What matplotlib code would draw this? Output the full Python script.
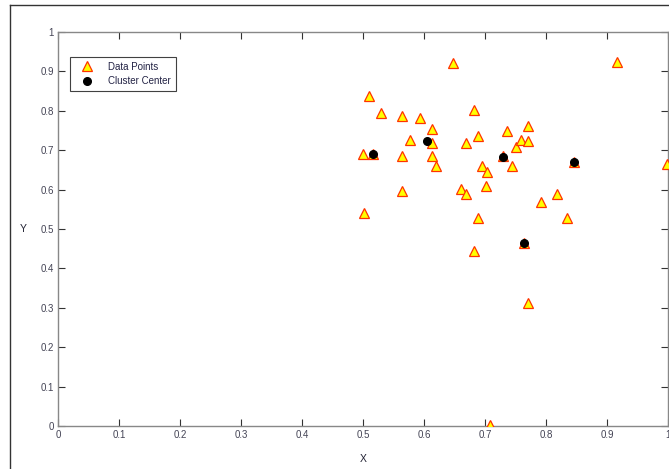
import matplotlib
matplotlib.use("Agg")
import matplotlib.pyplot as plt
from matplotlib.lines import Line2D

plt.rcParams['font.family'] = ['Liberation Sans', 'DejaVu Sans']

# Data points
data_x = [0.500, 0.510, 0.530, 0.502, 0.564, 0.577, 0.564, 0.564, 0.593, 0.613,
          0.613, 0.613, 0.620, 0.648, 0.669, 0.682, 0.689, 0.661, 0.669, 0.695,
          0.703, 0.702, 0.689, 0.682, 0.708, 0.736, 0.744, 0.751, 0.759, 0.770,
          0.770, 0.770, 0.792, 0.818, 0.834, 0.916, 0.998, 0.516, 0.730, 0.764,
          0.846]
data_y = [0.690, 0.838, 0.795, 0.541, 0.787, 0.726, 0.686, 0.596, 0.782, 0.754,
          0.718, 0.686, 0.660, 0.921, 0.718, 0.802, 0.736, 0.601, 0.589, 0.660,
          0.645, 0.609, 0.528, 0.445, 0.003, 0.749, 0.660, 0.708, 0.726, 0.762,
          0.723, 0.313, 0.569, 0.589, 0.528, 0.924, 0.665, 0.690, 0.685, 0.465,
          0.670]

# Cluster centers
center_x = [0.516, 0.605, 0.730, 0.764, 0.846]
center_y = [0.690, 0.723, 0.683, 0.464, 0.670]

x_ticks = [0, 0.1, 0.2, 0.3, 0.4, 0.5, 0.6, 0.7, 0.8, 0.9, 1]
y_ticks = [0, 0.1, 0.2, 0.3, 0.4, 0.5, 0.6, 0.7, 0.8, 0.9, 1]
tick_labels = ['0', '0.1', '0.2', '0.3', '0.4', '0.5', '0.6', '0.7', '0.8', '0.9', '1']

W, H = 669, 469
fig = plt.figure(figsize=(W / 100, H / 100), dpi=100)
ax = fig.add_axes([58 / W, 1 - 426 / H, 610 / W, 394 / H])

ax.plot(data_x, data_y, linestyle='none', marker='^', markersize=7.5,
        markerfacecolor='#ffff00', markeredgecolor='#ff3300', markeredgewidth=0.9,
        label='Data Points', zorder=3)
ax.plot(center_x, center_y, linestyle='none', marker='o', markersize=5.5,
        markerfacecolor='black', markeredgecolor='black',
        label='Cluster Center', zorder=4)

ax.set_xlim(0, 1)
ax.set_ylim(0, 1)
ax.set_xticks(x_ticks)
ax.set_xticklabels(tick_labels)
ax.set_yticks(y_ticks)
ax.set_yticklabels(tick_labels)
ax.tick_params(direction='in', length=5, width=0.8, color='#333333',
               labelsize=7, labelcolor='#444455', top=True, right=True, pad=3)
for s in ax.spines.values():
    s.set_color('#888888')
    s.set_linewidth(1.0)

ax.set_xlabel('X', fontsize=7.5, color='#222233', labelpad=10)
ax.set_ylabel('Y', fontsize=7.5, color='#222233', rotation=0, labelpad=12, va='center')

leg = ax.legend(loc='upper left', bbox_to_anchor=((70 - 58) / 610, (426 - 57) / 394),
                fontsize=7, frameon=True, fancybox=False, borderpad=0.5,
                handletextpad=1.0, labelspacing=0.45, borderaxespad=0, handlelength=2.4)
leg.get_frame().set_edgecolor('#111111')
leg.get_frame().set_linewidth(0.8)
for t in leg.get_texts():
    t.set_color('#222244')

# outer figure frame (partially visible)
fig.add_artist(Line2D([10 / W, 10 / W], [0, 1 - 5 / H], transform=fig.transFigure,
                      color='#333333', linewidth=1.0))
fig.add_artist(Line2D([10 / W, 1], [1 - 5 / H, 1 - 5 / H], transform=fig.transFigure,
                      color='#333333', linewidth=1.0))

fig.savefig('out.png', dpi=100)
